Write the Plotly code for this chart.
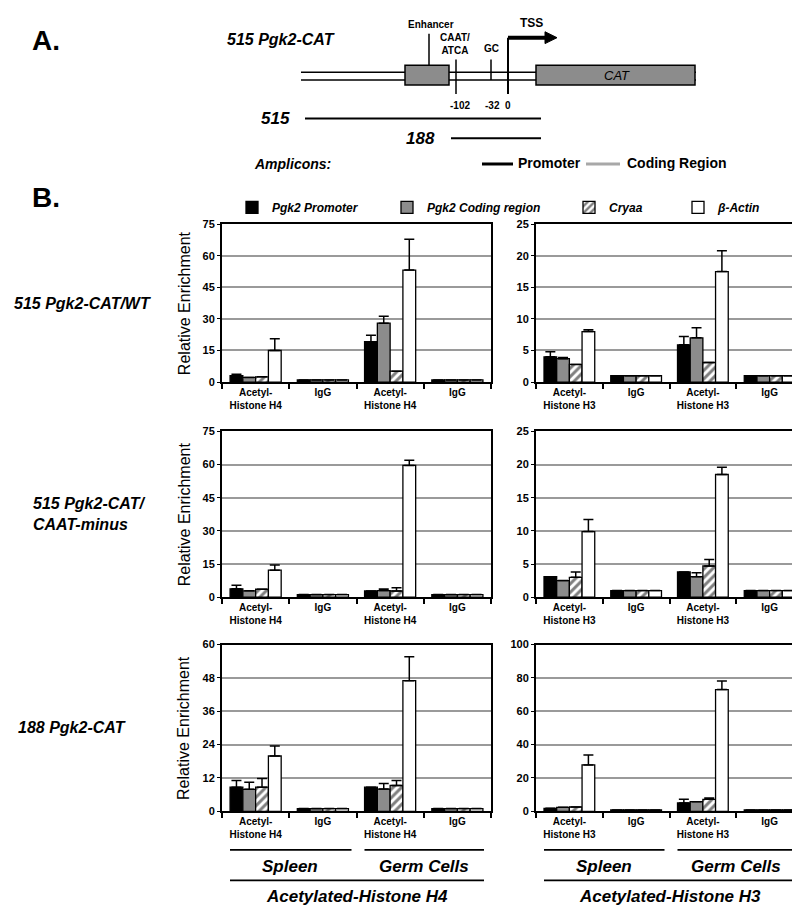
import plotly.graph_objects as go

W, H = 800, 908
FONT = "Arial, Liberation Sans, sans-serif"

categories = ["Spleen Acetyl", "Spleen IgG", "Germ Acetyl", "Germ IgG"]
h4_ticks = ["Acetyl-<br>Histone H4", "IgG", "Acetyl-<br>Histone H4", "IgG"]
h3_ticks = ["Acetyl-<br>Histone H3", "IgG", "Acetyl-<br>Histone H3", "IgG"]
series = ["Pgk2 Promoter", "Pgk2 Coding region", "Cryaa", "β-Actin"]

# values per panel: rows = promoter, coding, cryaa, actin ; cols = categories
wt_h4 = [[3.0, 1.0, 19.2, 1.0], [2.2, 1.0, 28.0, 1.0], [2.5, 1.0, 5.2, 1.0], [15.0, 1.0, 53.2, 1.0]]
wt_h4_err = [[0.7, 0, 3.0, 0], [0, 0, 3.3, 0], [0, 0, 0, 0], [5.6, 0, 14.6, 0]]
wt_h3 = [[4.0, 1.0, 5.9, 1.0], [3.7, 1.0, 7.0, 1.0], [2.8, 1.0, 3.1, 1.0], [8.0, 1.0, 17.5, 1.0]]
wt_h3_err = [[0.8, 0, 1.3, 0], [0.2, 0, 1.6, 0], [0, 0, 0, 0], [0.3, 0, 3.3, 0]]
caat_h4 = [[3.8, 1.2, 2.8, 1.2], [2.9, 1.2, 3.0, 1.2], [3.6, 1.2, 2.8, 1.2], [12.2, 1.2, 59.6, 1.2]]
caat_h4_err = [[1.6, 0, 0, 0], [0, 0, 0.7, 0], [0, 0, 1.5, 0], [2.4, 0, 2.4, 0]]
caat_h3 = [[3.1, 1.0, 3.8, 1.0], [2.5, 1.0, 3.1, 1.0], [3.0, 1.0, 4.7, 1.0], [9.9, 1.0, 18.5, 1.0]]
caat_h3_err = [[0, 0, 0, 0], [0, 0, 0.6, 0], [0.8, 0, 1.0, 0], [1.8, 0, 1.1, 0]]
p188_h4 = [[8.7, 1.0, 8.7, 1.0], [7.9, 1.0, 8.0, 1.0], [8.7, 1.0, 9.3, 1.0], [19.9, 1.0, 47.0, 1.0]]
p188_h4_err = [[2.4, 0, 0, 0], [2.6, 0, 2.0, 0], [3.1, 0, 1.8, 0], [3.6, 0, 8.6, 0]]
p188_h3 = [[1.8, 0.8, 5.0, 0.8], [2.4, 0.8, 5.8, 0.8], [2.6, 0.8, 7.2, 0.8], [27.8, 0.8, 73.0, 0.8]]
p188_h3_err = [[0, 0, 2.2, 0], [0, 0, 0, 0], [0, 0, 0.8, 0], [6.0, 0, 5.2, 0]]

y_max = [75, 25, 75, 25, 60, 100]
y_step = [15, 5, 15, 5, 12, 20]
row_labels = ["515 Pgk2-CAT/WT", "515 Pgk2-CAT/<br>CAAT-minus", "188 Pgk2-CAT"]

panels = [(wt_h4, wt_h4_err), (wt_h3, wt_h3_err), (caat_h4, caat_h4_err),
          (caat_h3, caat_h3_err), (p188_h4, p188_h4_err), (p188_h3, p188_h3_err)]

# panel frames in pixels
col_px = [(214, 483), (528, 795)]
row_px = [(213, 373), (423, 591), (639, 808)]


def px(x):
    return x / W


def py(y):
    return 1 - y / H


def style(i):
    if i == 0:
        return dict(color="black")
    if i == 1:
        return dict(color="#8c8c8c")
    if i == 2:
        return dict(color="white", pattern=dict(shape="/", fgcolor="black", bgcolor="white",
                                                size=6, solidity=0.5, fillmode="overlay"))
    return dict(color="white")


fig = go.Figure()
layout = {}
for p, (vals, errs) in enumerate(panels):
    r, c = divmod(p, 2)
    sfx = "" if p == 0 else str(p + 1)
    for i, name in enumerate(series):
        m = style(i)
        m["line"] = dict(color="black", width=1.3)
        fig.add_trace(go.Bar(
            x=categories, y=vals[i], name="<b><i>%s</i></b>" % name,
            marker=m, xaxis="x" + sfx, yaxis="y" + sfx,
            showlegend=(p == 0), legend="legend" if i == 0 else "legend%d" % (i + 1),
            error_y=dict(type="data", symmetric=False, array=errs[i], arrayminus=[0] * 4,
                         color="black", thickness=1.5, width=5),
        ))
    x0, x1 = col_px[c]
    y0, y1 = row_px[r]
    layout["xaxis" + sfx] = dict(
        domain=[px(x0), px(x1)], anchor="y" + sfx, type="category",
        tickvals=categories, ticktext=h4_ticks if c == 0 else h3_ticks,
        tickson="boundaries", ticks="outside", ticklen=5, tickwidth=1.5, tickcolor="black",
        showline=True, mirror=True, linecolor="black", linewidth=2, showgrid=False,
        tickfont=dict(family=FONT, size=10, color="black", weight="bold"),
    )
    layout["yaxis" + sfx] = dict(
        domain=[py(y1), py(y0)], anchor="x" + sfx, range=[0, y_max[p]], dtick=y_step[p],
        showline=True, mirror=True, linecolor="black", linewidth=2,
        showgrid=True, gridcolor="#9a9a9a", gridwidth=1.5, zeroline=False,
        ticks="outside", ticklen=3, tickcolor="black",
        tickfont=dict(family=FONT, size=11, color="black", weight="bold"),
    )

legend_x = [224, 379, 561, 670]
for i, lx in enumerate(legend_x):
    key = "legend" if i == 0 else "legend%d" % (i + 1)
    layout[key] = dict(x=px(lx), y=py(196), xanchor="left", yanchor="middle",
                       orientation="h", bgcolor="rgba(0,0,0,0)",
                       font=dict(family=FONT, size=12, color="black"))

ann = []
shapes = []


def text(x, y, s, size, xanchor="center", bold=True, italic=False, align="center", angle=0):
    if bold:
        s = "<b>%s</b>" % s
    if italic:
        s = "<i>%s</i>" % s
    ann.append(dict(x=px(x), y=py(y), xref="paper", yref="paper", text=s, showarrow=False,
                    xanchor=xanchor, yanchor="middle", align=align, textangle=angle,
                    font=dict(family=FONT, size=size, color="black")))


def line(x0, y0, x1, y1, w=1.5, color="black"):
    shapes.append(dict(type="line", xref="paper", yref="paper", x0=px(x0), y0=py(y0),
                       x1=px(x1), y1=py(y1), line=dict(color=color, width=w)))


def rect(x0, y0, x1, y1):
    shapes.append(dict(type="rect", xref="paper", yref="paper", x0=px(x0), y0=py(y0),
                       x1=px(x1), y1=py(y1), fillcolor="#8c8c8c",
                       line=dict(color="black", width=1.5)))


# ---- panel A: construct diagram
text(22, 27, "A.", 28, xanchor="left")
text(217, 26, "515 Pgk2-CAT", 16, xanchor="left", italic=True)
line(293, 59, 688, 59)
line(293, 67, 688, 67)
rect(397, 52, 441, 72)
rect(528, 52, 687, 72)
text(609, 62, "CAT", 13, bold=False, italic=True)
line(421, 20, 421, 52)
text(423, 11, "Enhancer", 10)
line(448, 46, 448, 81)
text(447, 30, "CAAT/<br>ATCA", 10)
line(483, 46, 483, 67)
text(483, 35, "GC", 10)
line(500, 24, 500, 81, w=2)
line(500, 24, 539, 24, w=4)
shapes.append(dict(type="path", xref="paper", yref="paper",
                   path="M %f %f L %f %f L %f %f Z" % (px(537), py(18), px(549), py(24), px(537), py(30)),
                   fillcolor="black", line=dict(color="black", width=1)))
text(523, 9, "TSS", 12)
for lab, xx in zip(["-102", "-32", "0"], [452, 485, 500]):
    text(xx, 93, lab, 10)
text(284, 106, "515", 17, xanchor="right", italic=True)
line(297, 106, 533, 106, w=2)
text(429, 126, "188", 17, xanchor="right", italic=True)
line(443, 126, 533, 126, w=2)
text(244, 152, "Amplicons:", 14, xanchor="left", italic=True)
line(474, 152, 505, 152, w=3)
text(508, 151, "Promoter", 14, xanchor="left")
line(578, 152, 612, 152, w=3, color="#a8a8a8")
text(617, 151, "Coding Region", 14, xanchor="left")

# ---- panel B labels
text(22, 186, "B.", 28, xanchor="left")
row_lab_x = [4, 23, 8]
for r, lab in enumerate(row_labels):
    yc = (row_px[r][0] + row_px[r][1]) / 2
    text(row_lab_x[r], yc, lab, 16, xanchor="left", italic=True, align="left")
    text(176, yc, "Relative Enrichment", 16, bold=False, angle=-90)

for c, (x0, x1) in enumerate(col_px):
    mid = (x0 + x1) / 2
    line(x0 + 8, 847, mid - 5, 847, w=1.8)
    line(mid + 8, 847, x1 - 7, 847, w=1.8)
    text((x0 + mid) / 2 + 1, 864, "Spleen", 17, italic=True)
    text((mid + x1) / 2, 864, "Germ Cells", 17, italic=True)
    line(x0 + 8, 878, x1 - 7, 878, w=1.8)
    text(mid, 894, "Acetylated-Histone H4" if c == 0 else "Acetylated-Histone H3", 17, italic=True)

fig.update_layout(
    width=W, height=H, margin=dict(l=0, r=0, t=0, b=0),
    paper_bgcolor="white", plot_bgcolor="white",
    barmode="group", bargap=0.24, bargroupgap=0,
    annotations=ann, shapes=shapes, **layout,
)
fig.write_html("out.html")
